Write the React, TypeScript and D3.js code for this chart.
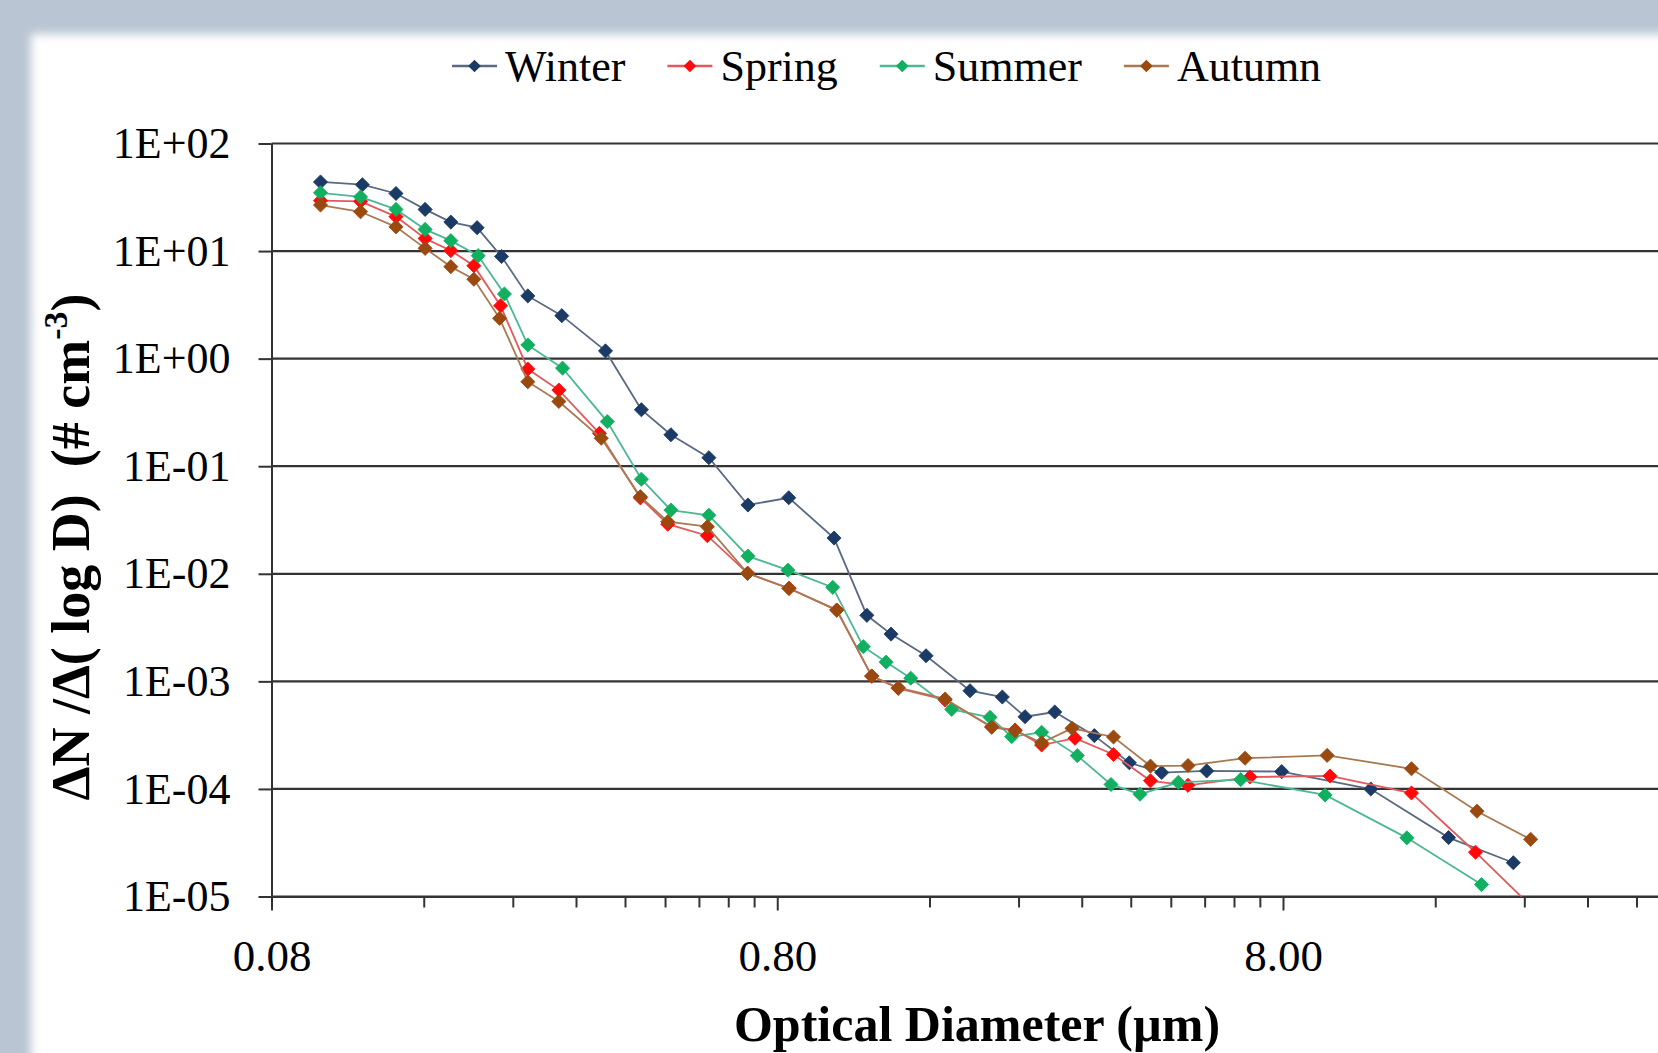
import React, { useEffect, useRef } from "react";
import * as d3 from "d3";

// optical diameter (um) and dN/dlogD (# cm-3) per season
const winterD = [0.1, 0.121, 0.141, 0.161, 0.181, 0.204, 0.228, 0.257, 0.3, 0.366, 0.431, 0.493, 0.586, 0.7, 0.843, 1.036, 1.203, 1.343, 1.575, 1.924, 2.229, 2.472, 2.83, 3.389, 3.974, 4.605, 5.652, 7.953, 11.93, 17.0, 22.83];
const winterN = [43.9, 41.4, 34.3, 24.4, 18.6, 16.5, 8.9, 3.83, 2.51, 1.18, 0.335, 0.196, 0.12, 0.0436, 0.0509, 0.0215, 0.00411, 0.00275, 0.00173, 0.000818, 0.000715, 0.000469, 0.000519, 0.000313, 0.000175, 0.000142, 0.000147, 0.000145, 0.0000998, 0.0000353, 0.0000206];

const springD = [0.1, 0.12, 0.141, 0.161, 0.181, 0.201, 0.227, 0.257, 0.296, 0.356, 0.429, 0.486, 0.582, 0.699, 0.844, 1.049, 1.23, 1.388, 1.718, 2.124, 2.362, 2.666, 3.103, 3.698, 4.376, 5.19, 6.886, 9.91, 14.36, 19.22, 24.7];
const springN = [29.4, 29.0, 20.9, 13.1, 10.1, 7.31, 3.1, 0.8, 0.51, 0.202, 0.0508, 0.0289, 0.0226, 0.0101, 0.00733, 0.0046, 0.00112, 0.000861, 0.000671, 0.000379, 0.000353, 0.000256, 0.000296, 0.000209, 0.000119, 0.000108, 0.000129, 0.000132, 0.0000916, 0.0000258, 0.0000082];

const summerD = [0.1, 0.12, 0.141, 0.161, 0.181, 0.205, 0.231, 0.257, 0.301, 0.369, 0.431, 0.493, 0.586, 0.7, 0.84, 1.03, 1.184, 1.313, 1.469, 1.77, 2.108, 2.326, 2.666, 3.136, 3.656, 4.172, 4.967, 6.597, 9.69, 14.06, 19.75];
const summerN = [34.8, 31.9, 24.4, 15.9, 12.5, 9.06, 3.99, 1.34, 0.816, 0.26, 0.0757, 0.0391, 0.035, 0.0146, 0.0108, 0.00748, 0.0021, 0.00151, 0.00107, 0.000549, 0.000463, 0.000306, 0.000336, 0.000204, 0.00011, 0.0000893, 0.000115, 0.000122, 0.0000879, 0.0000351, 0.0000129];

const autumnD = [0.1, 0.12, 0.141, 0.161, 0.181, 0.201, 0.226, 0.257, 0.296, 0.359, 0.429, 0.486, 0.582, 0.699, 0.844, 1.049, 1.23, 1.388, 1.718, 2.124, 2.362, 2.666, 3.061, 3.698, 4.376, 5.192, 6.73, 9.78, 14.36, 19.35, 24.7];
const autumnN = [26.8, 23.2, 16.8, 10.6, 7.16, 5.47, 2.37, 0.61, 0.4, 0.182, 0.0521, 0.0305, 0.0274, 0.0101, 0.0073, 0.0046, 0.00112, 0.000873, 0.000686, 0.000374, 0.000348, 0.000269, 0.000366, 0.000304, 0.000163, 0.000165, 0.000193, 0.000205, 0.000154, 0.0000621, 0.000034];

const seasons = ["Winter", "Spring", "Summer", "Autumn"];
const markerColors = ["#1b3a66", "#ff0a0a", "#10b060", "#9a4a10"];
const lineColors = ["#5a6a82", "#e05a5e", "#4cb894", "#a87a52"];

const yTicks = [1e2, 1e1, 1e0, 1e-1, 1e-2, 1e-3, 1e-4, 1e-5];
// the 80.00 label falls past the right edge of the picture
const xMajor = [0.08, 0.8, 8];

const W = 1658;
const H = 1053;
const serif = "'Liberation Serif', 'Times New Roman', serif";

const App = () => {
  const ref = useRef<SVGSVGElement>(null);

  useEffect(() => {
    const svg = d3.select(ref.current);
    svg.selectAll("*").remove();

    const left = 271.5;
    const top = 143.5;
    const bottom = 896.5;

    const x = d3.scaleLog().domain([0.08, 80]).range([left, left + 3 * 505.75]);
    const y = d3.scaleLog().domain([1e-5, 1e2]).range([bottom, top]);

    // frame background
    const defs = svg.append("defs");
    defs
      .append("filter")
      .attr("id", "soft")
      .attr("x", "-10%")
      .attr("y", "-10%")
      .attr("width", "120%")
      .attr("height", "120%")
      .append("feGaussianBlur")
      .attr("stdDeviation", 5);
    defs
      .append("clipPath")
      .attr("id", "plot")
      .append("rect")
      .attr("x", left)
      .attr("y", 100)
      .attr("width", W)
      .attr("height", bottom - 100);

    svg.append("rect").attr("width", W).attr("height", H).attr("fill", "#b9c5d2");
    svg
      .append("rect")
      .attr("x", 31)
      .attr("y", 34)
      .attr("width", W + 40)
      .attr("height", H + 40)
      .attr("fill", "#ffffff")
      .attr("filter", "url(#soft)");

    // gridlines
    svg
      .append("g")
      .selectAll("line")
      .data(yTicks)
      .join("line")
      .attr("x1", left)
      .attr("x2", W)
      .attr("y1", (d) => y(d))
      .attr("y2", (d) => y(d))
      .attr("stroke", "#333")
      .attr("stroke-width", 2.2);

    // y axis
    const fmt = (v: number) => {
      const e = Math.round(Math.log10(v));
      return "1E" + (e >= 0 ? "+" : "-") + String(Math.abs(e)).padStart(2, "0");
    };
    const yAxis = d3
      .axisLeft(y)
      .tickValues(yTicks)
      .tickSize(13)
      .tickSizeOuter(0)
      .tickPadding(28)
      .tickFormat((d) => fmt(d as number));
    const gy = svg.append("g").attr("transform", `translate(${left},0)`).call(yAxis);

    // x axis: minor ticks, then majors with labels
    const minors: number[] = [];
    [0.08, 0.8, 8].forEach((b) => {
      for (let k = 2; k <= 9; k++) minors.push(b * k);
    });
    const gxMinor = svg
      .append("g")
      .attr("transform", `translate(0,${bottom})`)
      .call(d3.axisBottom(x).tickValues(minors).tickSize(11).tickSizeOuter(0).tickFormat(() => ""));
    const gx = svg
      .append("g")
      .attr("transform", `translate(0,${bottom})`)
      .call(
        d3
          .axisBottom(x)
          .tickValues(xMajor)
          .tickSize(14)
          .tickSizeOuter(0)
          .tickPadding(29)
          .tickFormat((d) => d3.format(".2f")(d as number))
      );

    [gy, gx, gxMinor].forEach((g) => {
      g.selectAll("path, line").attr("stroke", "#333").attr("stroke-width", 2);
      g.selectAll("text").attr("fill", "#000").attr("font-size", 44).attr("font-family", serif);
    });
    gx.selectAll("text").attr("font-size", 45);

    // series
    const series = [
      { d: winterD, n: winterN },
      { d: springD, n: springN },
      { d: summerD, n: summerN },
      { d: autumnD, n: autumnN },
    ];
    const line = d3
      .line<[number, number]>()
      .x((p) => x(p[0]))
      .y((p) => y(p[1]));
    const diamond = d3.symbol(d3.symbolSquare, 100);

    const plot = svg.append("g").attr("clip-path", "url(#plot)");
    series.forEach((s, i) => {
      const pts = s.d.map((v, j) => [v, s.n[j]] as [number, number]);
      const g = plot.append("g");
      g.append("path")
        .attr("d", line(pts))
        .attr("fill", "none")
        .attr("stroke", lineColors[i])
        .attr("stroke-width", 1.8);
      g.selectAll("path.m")
        .data(pts)
        .join("path")
        .attr("class", "m")
        .attr("d", diamond())
        .attr("transform", (p) => `translate(${x(p[0])},${y(p[1])}) rotate(45)`)
        .attr("fill", markerColors[i])
        .attr("stroke", markerColors[i])
        .attr("stroke-width", 0.8);
    });

    // legend
    const legend = svg.append("g").attr("transform", "translate(452,66)");
    let cx = 0;
    seasons.forEach((name, i) => {
      const g = legend.append("g").attr("transform", `translate(${cx},0)`);
      g.append("line").attr("x1", 0).attr("x2", 45).attr("stroke", lineColors[i]).attr("stroke-width", 2.5);
      g.append("path")
        .attr("d", d3.symbol(d3.symbolSquare, 80)())
        .attr("transform", "translate(22.5,0) rotate(45)")
        .attr("fill", markerColors[i]);
      const t = g
        .append("text")
        .attr("x", 53)
        .attr("y", 15)
        .attr("font-size", 44)
        .attr("font-family", serif)
        .text(name);
      const w = (t.node() as SVGTextElement).getComputedTextLength();
      cx += 53 + w + 42;
    });

    // axis titles
    svg
      .append("text")
      .attr("x", 977)
      .attr("y", 1041)
      .attr("text-anchor", "middle")
      .attr("font-size", 50)
      .attr("font-weight", "bold")
      .attr("font-family", serif)
      .text("Optical Diameter (\u00b5m)");

    const yt = svg
      .append("text")
      .attr("transform", "translate(89,547) rotate(-90)")
      .attr("text-anchor", "middle")
      .attr("font-size", 54)
      .attr("font-weight", "bold")
      .attr("font-family", serif)
      .style("white-space", "pre");
    yt.append("tspan").text("\u0394N /\u0394( log D)  (# cm");
    yt.append("tspan").attr("font-size", 34).attr("dy", -22).text("-3");
    yt.append("tspan").attr("dy", 22).text(")");
  }, []);

  return (
    <svg
      ref={ref}
      width={W}
      height={H}
      style={{ position: "absolute", left: 0, top: 0, display: "block" }}
    />
  );
};

export default App;
